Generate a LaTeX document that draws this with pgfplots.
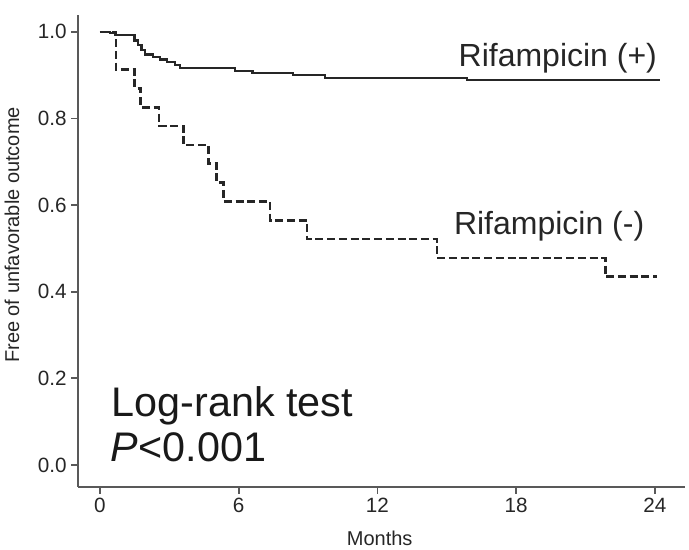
\documentclass[border=0pt]{standalone}
\usepackage{fontspec}
\setmainfont{Liberation Sans}
\usepackage{pgfplots}
\pgfplotsset{compat=1.18}
\usepackage{pgfplotstable}

\pgfplotstableread{
t s
0     1.000
0.43  0.997
0.65  0.993
1.50  0.980
1.65  0.970
1.80  0.958
1.95  0.948
2.30  0.942
2.60  0.936
2.90  0.930
3.25  0.924
3.46  0.916
5.84  0.910
6.60  0.905
8.35  0.900
9.74  0.894
15.87 0.889
24.2  0.889
}\rifpos

\pgfplotstableread{
t s
0     1.000
0.70  0.913
1.50  0.870
1.75  0.826
2.55  0.783
3.60  0.739
4.69  0.696
5.05  0.652
5.34  0.609
7.36  0.565
8.95  0.522
14.57 0.478
21.86 0.435
24.1  0.435
}\rifneg

\begin{document}
\begin{tikzpicture}
\begin{axis}[
  name=ax,
  scale only axis,
  width=455.25pt, height=354pt,
  xmin=-0.95, xmax=25.3, ymin=-0.051, ymax=1.039,
  axis lines=left,
  axis line style={-, line width=1.3pt, black!65},
  xtick={0,6,12,18,24},
  ytick={0,0.2,0.4,0.6,0.8,1.0},
  yticklabel style={/pgf/number format/.cd, fixed, fixed zerofill, precision=1},
  /pgf/number format/assume math mode=true,
  tick align=outside,
  major tick length=5pt,
  tick style={line width=1.3pt, black!65},
  ticklabel style={font=\fontsize{15.5}{18}\selectfont, text=black!85},
  xlabel={Months},
  ylabel={Free of unfavorable outcome},
  label style={font=\fontsize{15}{18}\selectfont, text=black!85},
  xlabel style={at={(axis description cs:0.497,-0.108)}, anchor=center},
  ylabel style={at={(axis description cs:-0.1087,0.534)}, anchor=center},
  clip=false,
]
\addplot[const plot, line width=1.8pt, black!85] table[x=t, y=s] {\rifpos};
\addplot[const plot, line width=2pt, black!85, dash pattern=on 6pt off 2.8pt] table[x=t, y=s] {\rifneg};
\node[anchor=base west, inner sep=0, font=\fontsize{24}{28}\selectfont, text=black!85] at (axis cs:15.5,0.92) {Rifampicin (+)};
\node[anchor=base west, inner sep=0, font=\fontsize{24}{28}\selectfont, text=black!85] at (axis cs:15.3,0.531) {Rifampicin (-)};
\node[anchor=base west, inner sep=0, font=\fontsize{31}{34}\selectfont, text=black!90] at (axis cs:0.5,0.112) {Log-rank test};
\node[anchor=base west, inner sep=0, font=\fontsize{31}{34}\selectfont, text=black!90] at (axis cs:0.46,0.008) {\textit{P}<0.001};
\end{axis}
\path ([xshift=-58.5pt,yshift=-45.75pt]ax.south west) rectangle ([xshift=3pt,yshift=11.25pt]ax.north east);
\end{tikzpicture}
\end{document}
